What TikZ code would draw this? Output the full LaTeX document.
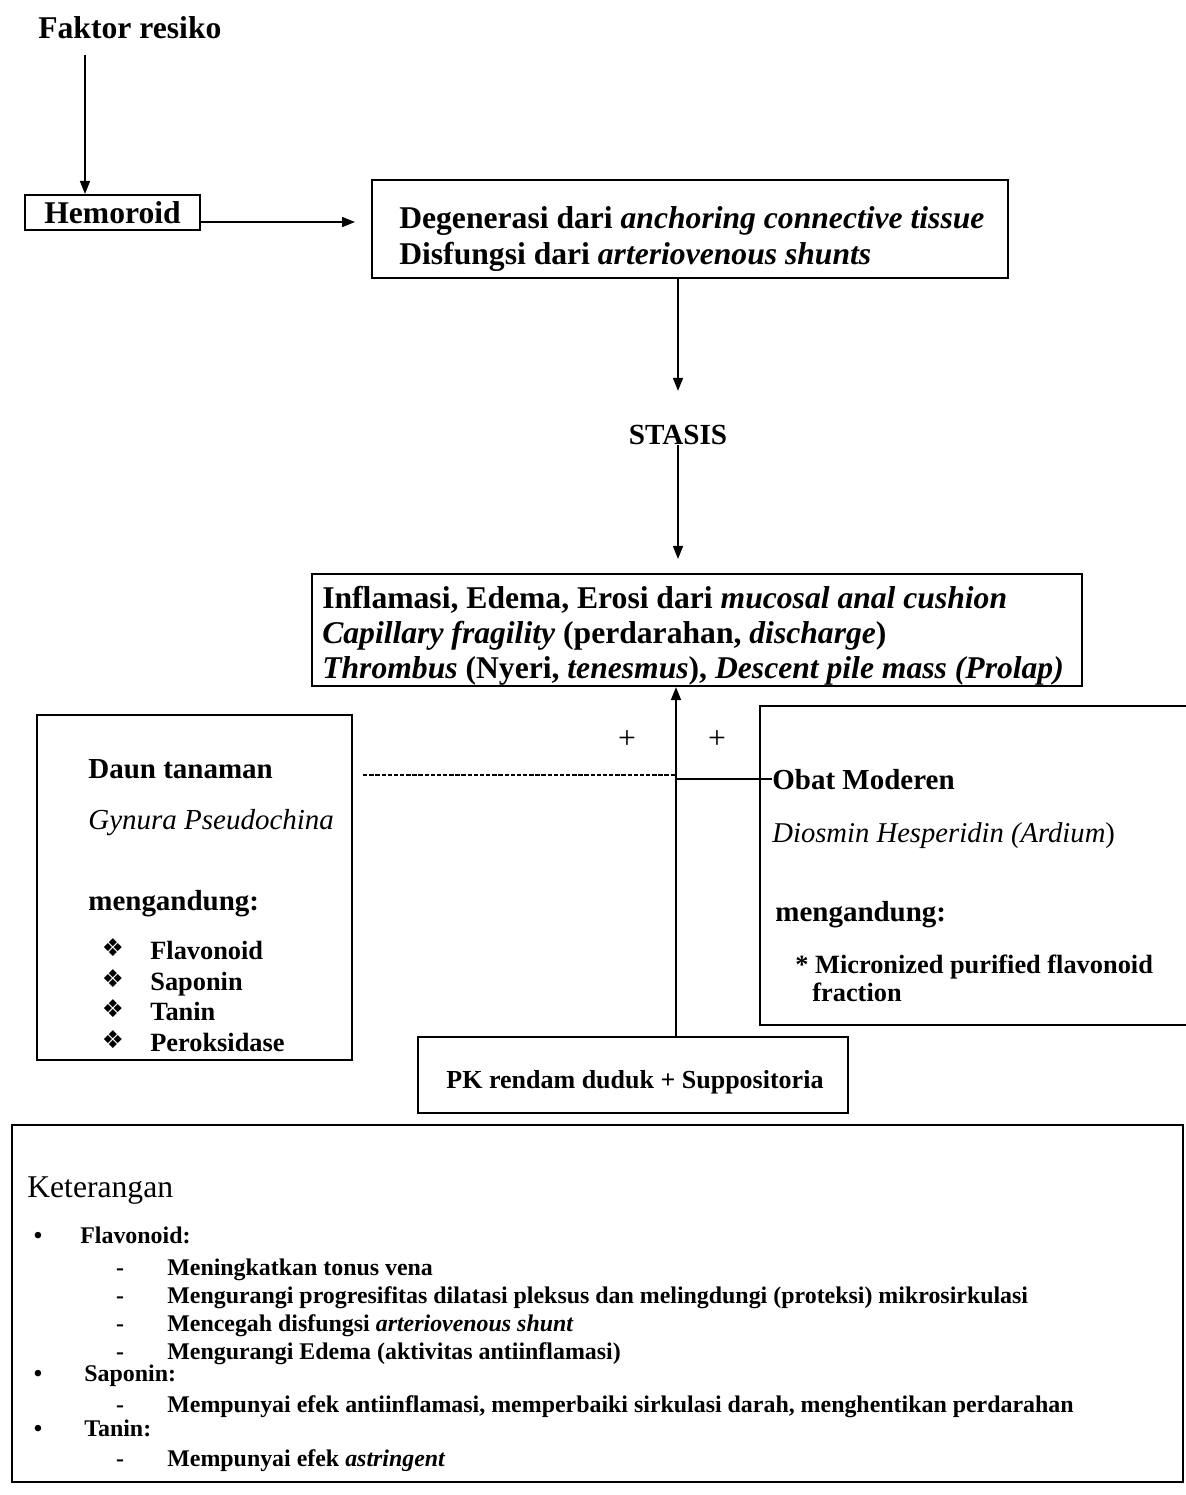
\documentclass[tikz,border=0pt]{standalone}
\usepackage{fontspec}
\setmainfont{Liberation Serif}
\newfontfamily\symfont{DejaVu Sans}
\usetikzlibrary{arrows.meta, positioning}
\newcommand{\fsz}[2]{\fontsize{#1}{#2}\selectfont}

\begin{document}
\begin{tikzpicture}[x=0.2mm, y=-0.2mm,
    box/.style={draw, line width=1.2pt, inner sep=0pt},
    arr/.style={-{Triangle[length=2.6mm, width=2mm]}, line width=0.9pt},
    txt/.style={anchor=base west, inner sep=0pt, font=\bfseries\fsz{16.5}{20}},
    ket/.style={anchor=base west, inner sep=0pt, font=\bfseries\fsz{13.6}{16}},
    finedash/.style={line width=0.8pt, dash pattern=on 2.5pt off 1pt}]
  \useasboundingbox (0,0) rectangle (1186,1495);

  % Top chain
  \node (faktor) at (38,38) [txt, font=\bfseries\fsz{18}{20}] {Faktor resiko};
  \node (hemo) at (112.5,212.5) [box, minimum width=35mm, minimum height=7mm, font=\bfseries\fsz{18}{20}] {Hemoroid};
  \node (degen) at (690,229) [box, minimum width=127.2mm, minimum height=19.6mm] {};
  \node (degentxt) at (degen.west) [anchor=west, xshift=5.6mm, yshift=-2mm, inner sep=0pt, align=left, font=\bfseries\fsz{18}{20.4}]
    {Degenerasi dari \textit{anchoring connective tissue}\\Disfungsi dari \textit{arteriovenous shunts}};
  \node (stasis) at (678,435) [inner sep=0pt, font=\bfseries\fsz{16.6}{20}] {STASIS};
  \node (inflam) at (697,630) [box, minimum width=154mm, minimum height=22.4mm] {};
  \node (inflamtxt) at (inflam.west) [anchor=west, xshift=2.2mm, yshift=-1.2mm, inner sep=0pt, align=left, font=\bfseries\fsz{18}{19.8}]
    {Inflamasi, Edema, Erosi dari \textit{mucosal anal cushion}\\
     \textit{Capillary fragility} (perdarahan, \textit{discharge})\\
     \textit{Thrombus} (Nyeri, \textit{tenesmus}), \textit{Descent pile mass (Prolap)}};

  \coordinate (fk) at (85,55);
  \coordinate (ha) at (355,222);
  \draw[arr] (fk) -- (fk |- hemo.north);
  \draw[arr] (hemo.east |- ha) -- (ha);
  \draw[arr, shorten >=6.8mm] (degen.south -| stasis) -- (stasis.north);
  \draw[arr, shorten >=2.8mm] (stasis.south) -- (stasis.south |- inflam.north);

  % Herbal box (left)
  \node (daun) at (194.5,887.5) [box, minimum width=63mm, minimum height=69mm] {};
  \node (dauntxt) at (88,778) [txt] {Daun tanaman};
  \node (gynura) at (88,829) [txt, font=\itshape\fsz{16.5}{20}] {Gynura Pseudochina};
  \node (kandung1) at (88,910) [txt] {mengandung:};
  \foreach \name/\y in {Flavonoid/959, Saponin/990, Tanin/1020, Peroksidase/1051} {
    \node at (113,\y-11) [inner sep=0pt, font=\symfont\fsz{14}{16}] {❖};
    \node at (150,\y) [txt, font=\bfseries\fsz{15}{18}] {\name};
  }

  % Modern drug box (right, runs off the page)
  \draw[line width=1.2pt] (1186,706) -- (760,706) -- (760,1025) -- (1186,1025);
  \node (obat) at (772,789) [txt] {Obat Moderen};
  \node (diosmin) at (772,842) [txt, font=\itshape\fsz{16.3}{20}] {Diosmin Hesperidin (Ardium\textup{)}};
  \node (kandung2) at (775,921) [txt] {mengandung:};
  \node (mpff) at (795,973) [txt, font=\bfseries\fsz{15}{18}] {* Micronized purified flavonoid};
  \node (mpff2) at (812,1001) [txt, font=\bfseries\fsz{15}{18}] {fraction};

  % Therapy box and links
  \node (pk) at (633,1075) [box, minimum width=86mm, minimum height=15.2mm] {};
  \node (pktxt) at (635,1082) [inner sep=0pt, font=\bfseries\fsz{14.8}{18}] {PK rendam duduk + Suppositoria};
  \node (plus1) at (627,740) [inner sep=0pt, font=\fsz{18}{20}] {+};
  \node (plus2) at (717,740) [inner sep=0pt, font=\fsz{18}{20}] {+};

  \coordinate (jn) at (676,775);
  \draw[finedash] ([xshift=2mm]daun.east |- jn) -- (jn);
  \draw[line width=0.8pt] (jn |- obat.west) -- (obat.west);
  \draw[arr] (pk.north -| jn) -- (inflam.south -| jn);

  % Keterangan
  \node (ketbox) at (597.5,1303.5) [box, minimum width=234.2mm, minimum height=71.4mm] {};
  \node (kethead) at (27,1197) [anchor=base west, inner sep=0pt, font=\fsz{18}{20}] {Keterangan};
  \foreach \x/\y/\t in {80/1243/Flavonoid:, 84/1381/Saponin:, 84/1436/Tanin:} {
    \node at (38,\y) [inner sep=0pt, anchor=base, font=\bfseries\fsz{13.6}{16}] {•};
    \node at (\x,\y) [ket] {\t};
  }
  \foreach \y/\t in {1275/Meningkatkan tonus vena,
      1303/Mengurangi progresifitas dilatasi pleksus dan melingdungi (proteksi) mikrosirkulasi,
      1331/Mencegah disfungsi \textit{arteriovenous shunt},
      1359/Mengurangi Edema (aktivitas antiinflamasi),
      1412/{Mempunyai efek antiinflamasi, memperbaiki sirkulasi darah, menghentikan perdarahan},
      1466/Mempunyai efek \textit{astringent}} {
    \node at (120,\y) [inner sep=0pt, anchor=base, font=\bfseries\fsz{13.6}{16}] {-};
    \node at (167,\y) [ket] {\t};
  }
\end{tikzpicture}
\end{document}
